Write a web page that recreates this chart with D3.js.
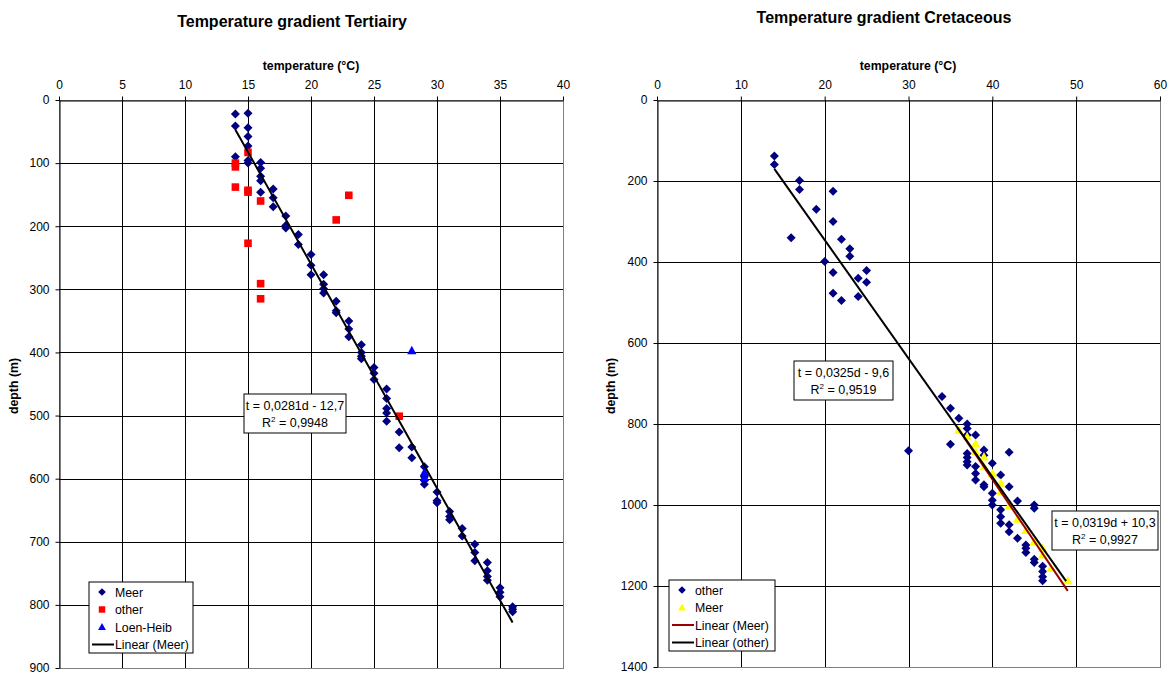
<!DOCTYPE html>
<html>
<head>
<meta charset="utf-8">
<script src="https://cdn.jsdelivr.net/npm/d3@7"></script>
<style>
  body { margin: 0; background: #fff; }
  svg { display: block; font-family: "Liberation Sans", Arial, sans-serif; }
</style>
</head>
<body>
<div id="chart"></div>
<script>
// ---- data (temperature in °C, depth in m) ----
var tertMeer = [[14,22],[15,21],[14,41],[15,44],[15,58],[15,73],[14,90],[15,96],[15,100],
  [16,99],[16,108],[16,121],[16,128],[17,141],[16,146],[17,155],[17,169],[18,184],[18,199],
  [18,203],[19,213],[19,229],[20,245],[20,262],[20,277],[21,277],[21,292],[21,299],[21,306],
  [22,319],[22,334],[22,337],[23,350],[23,363],[23,375],[24,388],[24,400],[24,406],[24,410],
  [25,424],[25,433],[25,443],[26,458],[26,473],[26,489],[26,496],[26,509],[27,526],[27,551],
  [28,550],[28,567],[29,581],[29,597],[29,603],[29,609],[30,621],[30,635],[30,638],[31,652],
  [31,660],[31,665],[32,679],[32,691],[33,704],[33,717],[33,730],[34,733],[34,746],[34,755],
  [34,761],[35,773],[35,780],[35,787],[36,803],[36,807],[36,811]];
var tertOther = [[15,83],[14,100],[14,106],[14,138],[15,143],[15,146],[16,160],[23,151],
  [22,190],[15,227],[16,291],[16,315],[27,501]];
var tertLoen = [[28,397],[29,590],[29,598]];
var tertTrend = [[14,47],[36,828]];

var cretOther = [[14,138],[14,159],[17,199],[17,221],[21,225],[19,270],[21,300],[16,340],
  [22,344],[23,367],[23,386],[20,399],[21,426],[25,421],[24,440],[25,450],[21,477],[22,495],
  [24,485],[34,732],[35,761],[36,786],[30,866],[35,850],[37,800],[37,811],[37,827],[37,873],
  [37,883],[37,893],[37,901],[38,827],[38,905],[38,922],[38,938],[39,864],[39,877],[39,950],
  [39,955],[40,897],[40,971],[40,988],[40,1000],[41,926],[41,1012],[41,1029],[41,1045],
  [42,870],[42,955],[42,1049],[42,1066],[43,990],[43,1082],[44,1099],[44,1107],[44,1117],
  [45,1000],[45,1008],[45,1134],[45,1142],[46,1151],[46,1164],[46,1177],[46,1187]];
var cretMeer = [[36,815],[37,831],[38,849],[38,868],[39,881],[39,905],[40,922],[41,946],
  [41,967],[42,1002],[43,1035],[44,1063],[45,1090],[46,1107],[46,1123],[47,1156],[49,1187]];
var cretTrendMeer = [[35.8,808],[49,1212]];
var cretTrendOther = [[14,170],[48.8,1188]];

var tertTicksX = [0,5,10,15,20,25,30,35,40];
var tertTicksY = [0,100,200,300,400,500,600,700,800,900];
var cretTicksX = [0,10,20,30,40,50,60];
var cretTicksY = [0,200,400,600,800,1000,1200,1400];

var W = 1168, H = 677;
var svg = d3.select('#chart').append('svg').attr('width', W).attr('height', H);

var diamond = 'M0,-4.5L4.5,0L0,4.5L-4.5,0Z';
var square = 'M-3.8,-3.8H3.8V3.8H-3.8Z';
var triangle = 'M0,-4.8L4.6,3.6H-4.6Z';

function drawPanel(opt) {
	var g = svg.append('g');
	var x = d3.scaleLinear().domain(opt.xDomain).range(opt.xRange);
	var y = d3.scaleLinear().domain(opt.yDomain).range(opt.yRange);

	// title
	g.append('text')
		.attr('x', opt.titleX).attr('y', opt.titleY)
		.attr('text-anchor', 'middle')
		.style('font-size', '16px').style('font-weight', 'bold')
		.text(opt.title);

	// plot border (grey)
	g.append('rect')
		.attr('x', x.range()[0]).attr('y', y.range()[0])
		.attr('width', x.range()[1] - x.range()[0])
		.attr('height', y.range()[1] - y.range()[0])
		.attr('fill', 'none').attr('stroke', '#808080').attr('shape-rendering', 'crispEdges');

	// gridlines
	g.append('g').selectAll('line').data(opt.ticksX.slice(1, -1)).enter()
		.append('line')
			.attr('x1', function(d) { return Math.round(x(d)) + 0.5; })
			.attr('x2', function(d) { return Math.round(x(d)) + 0.5; })
			.attr('y1', y.range()[0]).attr('y2', y.range()[1])
			.attr('stroke', '#000');
	g.append('g').selectAll('line').data(opt.ticksY.slice(1, -1)).enter()
		.append('line')
			.attr('y1', function(d) { return Math.round(y(d)) + 0.5; })
			.attr('y2', function(d) { return Math.round(y(d)) + 0.5; })
			.attr('x1', x.range()[0]).attr('x2', x.range()[1])
			.attr('stroke', '#000');

	// axes
	var xAxis = d3.axisTop(x).tickValues(opt.ticksX).tickSizeInner(4).tickSizeOuter(0).tickPadding(8)
		.tickFormat(d3.format('d'));
	var yAxis = d3.axisLeft(y).tickValues(opt.ticksY).tickSizeInner(4).tickSizeOuter(0).tickPadding(6)
		.tickFormat(d3.format('d'));
	var gx = g.append('g')
		.attr('transform', 'translate(0,' + (Math.round(y.range()[0]) + 0.5) + ')').call(xAxis);
	var gy = g.append('g')
		.attr('transform', 'translate(' + (Math.round(x.range()[0]) + 0.5) + ',0)').call(yAxis);
	[gx, gy].forEach(function(a) {
		a.selectAll('path, line').attr('stroke', '#000');
		a.selectAll('text').style('font-size', '12px').attr('fill', '#000')
			.style('font-family', '"Liberation Sans", Arial, sans-serif');
	});

	// axis titles
	g.append('text')
		.attr('x', opt.xTitleX).attr('y', 70)
		.attr('text-anchor', 'middle')
		.style('font-size', '12.3px').style('font-weight', 'bold')
		.text('temperature (°C)');
	g.append('text')
		.attr('transform', 'translate(' + opt.yTitleX + ',' + opt.yTitleY + ') rotate(-90)')
		.attr('text-anchor', 'middle')
		.style('font-size', '12.3px').style('font-weight', 'bold')
		.text('depth (m)');

	// points
	opt.series.forEach(function(s) {
		g.append('g').selectAll('path').data(s.data).enter()
			.append('path')
				.attr('d', s.shape)
				.attr('fill', s.color)
				.attr('transform', function(d) {
					return 'translate(' + x(d[0]) + ',' + y(d[1]) + ')';
				});
	});

	// trend lines
	var line = d3.line().x(function(d) { return x(d[0]); }).y(function(d) { return y(d[1]); });
	opt.trends.forEach(function(t) {
		g.append('path').datum(t.data)
			.attr('d', line).attr('fill', 'none')
			.attr('stroke', t.color).attr('stroke-width', 2);
	});

	// equation boxes
	opt.labels.forEach(function(l) {
		var b = g.append('g').attr('transform', 'translate(' + l.x + ',' + l.y + ')');
		b.append('rect').attr('width', l.w).attr('height', 39)
			.attr('fill', '#fff').attr('stroke', '#000').attr('stroke-width', 1);
		b.append('text').attr('x', l.w / 2).attr('y', 15.5).attr('text-anchor', 'middle')
			.style('font-size', '12.5px').text(l.line1);
		var r = b.append('text').attr('x', l.w / 2).attr('y', 33).attr('text-anchor', 'middle')
			.style('font-size', '12.5px');
		r.append('tspan').text('R');
		r.append('tspan').attr('dy', -5).style('font-size', '8px').text('2');
		r.append('tspan').attr('dy', 5).text(' = ' + l.r2);
	});

	// legend
	var lg = g.append('g').attr('transform', 'translate(' + opt.legend.x + ',' + opt.legend.y + ')');
	lg.append('rect').attr('width', opt.legend.w).attr('height', opt.legend.h)
		.attr('fill', '#fff').attr('stroke', '#000');
	opt.legend.items.forEach(function(it, i) {
		var row = lg.append('g').attr('transform', 'translate(0,' + (10 + i * 17.5) + ')');
		if (it.shape) {
			row.append('path').attr('d', it.shape).attr('fill', it.color)
				.attr('transform', 'translate(13,0) scale(0.85)');
		} else {
			row.append('line').attr('x1', 3).attr('x2', 25).attr('y1', 0).attr('y2', 0)
				.attr('stroke', it.color).attr('stroke-width', 2);
		}
		row.append('text').attr('x', 26).attr('y', 4.5)
			.style('font-size', '12.3px').text(it.name);
	});
}

drawPanel({
	title: 'Temperature gradient Tertiairy', titleX: 292, titleY: 27,
	xDomain: [0, 40], xRange: [59, 563],
	yDomain: [0, 900], yRange: [100, 668],
	ticksX: tertTicksX, ticksY: tertTicksY,
	xTitleX: 311, yTitleX: 18, yTitleY: 386,
	trends: [{ data: tertTrend, color: '#000' }],
	series: [
		{ data: tertMeer, shape: diamond, color: '#000080' },
		{ data: tertOther, shape: square, color: '#ff0000' },
		{ data: tertLoen, shape: triangle, color: '#0000ff' }
	],
	labels: [{ x: 244, y: 394, w: 102, line1: 't = 0,0281d - 12,7', r2: '0,9948' }],
	legend: { x: 89, y: 582, w: 104, h: 71, items: [
		{ name: 'Meer', shape: diamond, color: '#000080' },
		{ name: 'other', shape: square, color: '#ff0000' },
		{ name: 'Loen-Heib', shape: triangle, color: '#0000ff' },
		{ name: 'Linear (Meer)', color: '#000' }
	] }
});

drawPanel({
	title: 'Temperature gradient Cretaceous', titleX: 884, titleY: 23,
	xDomain: [0, 60], xRange: [657, 1160],
	yDomain: [0, 1400], yRange: [100, 667],
	ticksX: cretTicksX, ticksY: cretTicksY,
	xTitleX: 908, yTitleX: 615, yTitleY: 386,
	trends: [
		{ data: cretTrendMeer, color: '#990000' },
		{ data: cretTrendOther, color: '#000' }
	],
	series: [
		{ data: cretOther, shape: diamond, color: '#000080' },
		{ data: cretMeer, shape: triangle, color: '#ffff00' }
	],
	labels: [
		{ x: 794, y: 361, w: 99, line1: 't = 0,0325d - 9,6', r2: '0,9519' },
		{ x: 1052, y: 511, w: 106, line1: 't = 0,0319d + 10,3', r2: '0,9927' }
	],
	legend: { x: 669, y: 580, w: 106, h: 71, items: [
		{ name: 'other', shape: diamond, color: '#000080' },
		{ name: 'Meer', shape: triangle, color: '#ffff00' },
		{ name: 'Linear (Meer)', color: '#990000' },
		{ name: 'Linear (other)', color: '#000' }
	] }
});
</script>
</body>
</html>
